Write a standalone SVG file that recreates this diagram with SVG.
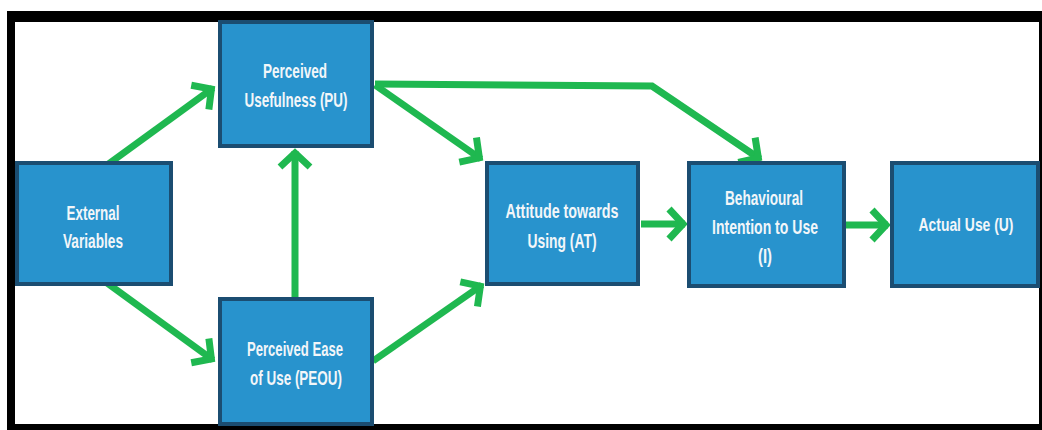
<svg xmlns="http://www.w3.org/2000/svg" width="1042" height="430" viewBox="0 0 1042 430">
<style>
.box{fill:#2893cd;stroke:#1b4d71;stroke-width:4}
.lbl{font-family:"Liberation Sans",Arial,sans-serif;font-weight:bold;font-size:21px;fill:#f2f6f9;text-anchor:middle}
.edge{fill:none;stroke:#1fb850;stroke-width:7;stroke-linejoin:miter}
</style>
<defs>
<marker id="chev" markerUnits="userSpaceOnUse" markerWidth="40" markerHeight="40" viewBox="-30 -20 40 40" refX="0" refY="0" orient="auto">
<path d="M-16,-15 L-2,0 L-16,15" fill="none" stroke="#1fb850" stroke-width="7" stroke-linecap="butt" stroke-linejoin="miter"/>
</marker>
</defs>
<rect x="0" y="0" width="1042" height="430" fill="#ffffff"/>
<g id="frame">
<rect x="7" y="11" width="1035" height="11" fill="#000"/>
<rect x="7" y="11" width="8" height="419" fill="#000"/>
<rect x="7" y="424" width="1035" height="6" fill="#000"/>
<rect x="1039" y="11" width="3" height="419" fill="#000"/>
</g>
<g id="connectors">
<path class="edge" d="M107,165 L213,88" marker-end="url(#chev)"/>
<path class="edge" d="M107,283 L213,360" marker-end="url(#chev)"/>
<path class="edge" d="M295,298 L295,151" marker-end="url(#chev)"/>
<path class="edge" d="M375,85 L481,159" marker-end="url(#chev)"/>
<path class="edge" d="M373,361 L482,285" marker-end="url(#chev)"/>
<path class="edge" d="M375,84 L652,86 L760,159" marker-end="url(#chev)"/>
<path class="edge" d="M641,224 L685,224" marker-end="url(#chev)"/>
<path class="edge" d="M846,225 L888,225" marker-end="url(#chev)"/>
</g>
<g id="pu">
<rect class="box" x="220" y="22" width="152" height="124"/>
<text class="lbl" x="295" y="78" textLength="64" lengthAdjust="spacingAndGlyphs">Perceived</text>
<text class="lbl" x="296" y="107" textLength="103" lengthAdjust="spacingAndGlyphs">Usefulness (PU)</text>
</g>
<g id="ev">
<rect class="box" x="17" y="163" width="154" height="121"/>
<text class="lbl" x="93" y="220" textLength="53" lengthAdjust="spacingAndGlyphs">External</text>
<text class="lbl" x="93" y="248" textLength="60" lengthAdjust="spacingAndGlyphs">Variables</text>
</g>
<g id="peou">
<rect class="box" x="220" y="299" width="152" height="125"/>
<text class="lbl" x="295" y="356" textLength="96" lengthAdjust="spacingAndGlyphs">Perceived Ease</text>
<text class="lbl" x="296" y="385" textLength="92" lengthAdjust="spacingAndGlyphs">of Use (PEOU)</text>
</g>
<g id="at">
<rect class="box" x="487" y="163" width="151" height="121"/>
<text class="lbl" x="562" y="218" textLength="113" lengthAdjust="spacingAndGlyphs">Attitude towards</text>
<text class="lbl" x="562" y="248" textLength="69" lengthAdjust="spacingAndGlyphs">Using (AT)</text>
</g>
<g id="bi">
<rect class="box" x="689" y="163" width="155" height="123"/>
<text class="lbl" x="764" y="205" textLength="78" lengthAdjust="spacingAndGlyphs">Behavioural</text>
<text class="lbl" x="765" y="234" textLength="106" lengthAdjust="spacingAndGlyphs">Intention to Use</text>
<text class="lbl" x="765" y="263" textLength="14" lengthAdjust="spacingAndGlyphs">(I)</text>
</g>
<g id="au">
<rect class="box" x="892" y="163" width="146" height="123"/>
<text class="lbl" x="966" y="231" style="font-size:19px" textLength="95" lengthAdjust="spacingAndGlyphs">Actual Use (U)</text>
</g>
</svg>
